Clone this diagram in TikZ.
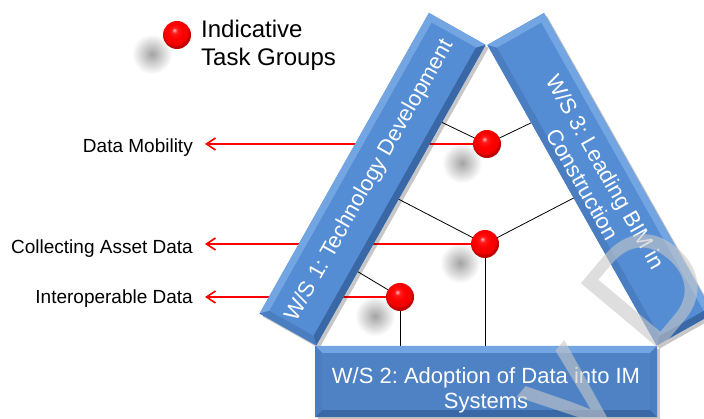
\documentclass[tikz,border=0pt]{standalone}
\usepackage{fontspec}
\setmainfont{Liberation Sans}
\frenchspacing
\usetikzlibrary{arrows.meta,calc}
\pgfdeclarelayer{bg}\pgfdeclarelayer{mid}\pgfdeclarelayer{top}
\pgfsetlayers{bg,mid,main,top}
\definecolor{barface}{RGB}{84,141,212}
\definecolor{barlight}{RGB}{114,165,226}
\definecolor{barmed}{RGB}{74,126,192}
\definecolor{bardark}{RGB}{58,104,166}
\definecolor{botface}{RGB}{78,130,196}
\definecolor{wmark}{RGB}{200,200,200}
\pgfdeclareradialshading{redball}{\pgfqpoint{-5bp}{9bp}}{color(0bp)=(red!25!white); color(5bp)=(red!90!white); color(13bp)=(red); color(22bp)=(red!95!black); color(25bp)=(red!75!black); color(50bp)=(red!75!black)}
\newcommand{\bevelrect}[7]{%
  \fill[#7] (0,0) rectangle (#1,#2);
  \fill[#3] (0,0) -- (#1,0) -- ({#1-7},7) -- (7,7) -- cycle;
  \fill[#4] (0,#2) -- (#1,#2) -- ({#1-7},{#2-7}) -- (7,{#2-7}) -- cycle;
  \fill[#5] (0,0) -- (7,7) -- (7,{#2-7}) -- (0,#2) -- cycle;
  \fill[#6] (#1,0) -- ({#1-7},7) -- ({#1-7},{#2-7}) -- (#1,#2) -- cycle;
}
\begin{document}
\begin{tikzpicture}[x=1pt,y=-1pt,
  ballst/.style={circle,minimum size=28pt,inner sep=0pt,shading=redball},
  ballshadow/.style={inner color=black!36,outer color=white},
  redarrow/.style={draw=red,line width=1.8pt,-{Straight Barb[length=9pt,width=12pt,line width=1.6pt]}},
  conn/.style={draw=black,line width=0.8pt},
  lab/.style={anchor=base east,inner xsep=12pt,inner ysep=0pt,font=\fontsize{19}{22}\selectfont},
  bartext/.style={text=white,align=center,font=\fontsize{22}{26}\selectfont,inner sep=0pt},
  barshadow/.style={fill=black,opacity=0.22},
  wm/.style={text=wmark,text opacity=0.6,font=\fontsize{150}{150}\selectfont,inner sep=0pt}
]
\useasboundingbox (0,0) rectangle (704,419);
% bar corners
\coordinate (P1) at (429,13);
\coordinate (P2) at (485.6,44.9);
\coordinate (P3) at (316.2,345.4);
\coordinate (P4) at (259.6,313.5);
\coordinate (Q1) at (544,13);
\coordinate (Q2) at (487.4,44.9);
\coordinate (Q3) at (656.8,345.4);
\coordinate (Q4) at (713.4,313.5);
% connector ends on the bars
\coordinate (c1l) at (438,120.5);
\coordinate (c1r) at (536,120.5);
\coordinate (c2l) at (395,197.3);
\coordinate (c2r) at (575,197.3);
\coordinate (c2b) at (485,352);
\coordinate (c3l) at (355,270);
\coordinate (c3b) at (400,352);
% balls
\node[ballst] (b0) at (177,35) {};
\node[ballst] (b1) at (487,144) {};
\node[ballst] (b2) at (485,244) {};
\node[ballst] (b3) at (400,297) {};
% texts
\node[anchor=north west,inner sep=0pt,align=left,font=\fontsize{24}{28}\selectfont] (leg) at (201,20) {Indicative\\Task Groups};
\node[lab] (l1) at (205,153) {Data Mobility};
\node[lab] (l2) at (205,254) {Collecting Asset Data};
\node[lab] (l3) at (205,304) {Interoperable Data};

\begin{pgfonlayer}{bg}
  \fill[white] (0,0) rectangle (704,419);
  \foreach \b in {b0,b1,b2,b3}{
    \shade[ballshadow] ($(\b)+(-25,19)$) circle (20pt);
  }
  \draw[redarrow] (b1.center) -- (b1.center -| l1.east);
  \draw[redarrow] (b2.center) -- (b2.center -| l2.east);
  \draw[redarrow] (b3.center) -- (b3.center -| l3.east);
  \draw[conn] (b1.center) -- (c1l);
  \draw[conn] (b1.center) -- (c1r);
  \draw[conn] (b2.center) -- (c2l);
  \draw[conn] (b2.center) -- (c2r);
  \draw[conn] (b2.center) -- (c2b);
  \draw[conn] (b3.center) -- (c3l);
  \draw[conn] (b3.center) -- (c3b);
\end{pgfonlayer}

\begin{pgfonlayer}{mid}
  \clip (0,0) rectangle (704,419);
  \fill[barshadow] ([shift={(3,3)}]P1) -- ([shift={(3,3)}]P2) -- ([shift={(3,3)}]P3) -- ([shift={(3,3)}]P4) -- cycle;
  \fill[barshadow] ([shift={(3,3)}]Q1) -- ([shift={(3,3)}]Q2) -- ([shift={(3,3)}]Q3) -- ([shift={(3,3)}]Q4) -- cycle;
  \begin{scope}[shift={(P4)},rotate=60.6]
    \bevelrect{345}{65}{barlight}{bardark}{barmed}{barlight}{barface}
    \node[bartext,transform shape] (t1) at (170,31) {W/S 1: Technology Development};
  \end{scope}
  \begin{scope}[shift={(Q1)},rotate=-60.6]
    \bevelrect{345}{65}{barlight}{barmed}{barlight}{bardark}{barface}
    \node[bartext,transform shape] (t3) at (168.5,37) {W/S 3: Leading BIM in\\Construction};
  \end{scope}
  \fill[barshadow] (318,349) rectangle (660,420);
  \begin{scope}[shift={(315,346)}]
    \bevelrect{342}{71}{barlight}{bardark}{barmed}{barmed}{botface}
  \end{scope}
  \node[bartext,font=\fontsize{22}{25}\selectfont] (t2) at (486,390.5) {W/S 2: Adoption of Data into IM\\Systems};
\end{pgfonlayer}

\begin{pgfonlayer}{top}
  \begin{scope}
    \clip (0,0) rectangle (704,419);
    \node[wm,rotate=50,anchor=base west] (wmk) at (577,448.5) {y D};
  \end{scope}
\end{pgfonlayer}
\end{tikzpicture}
\end{document}
